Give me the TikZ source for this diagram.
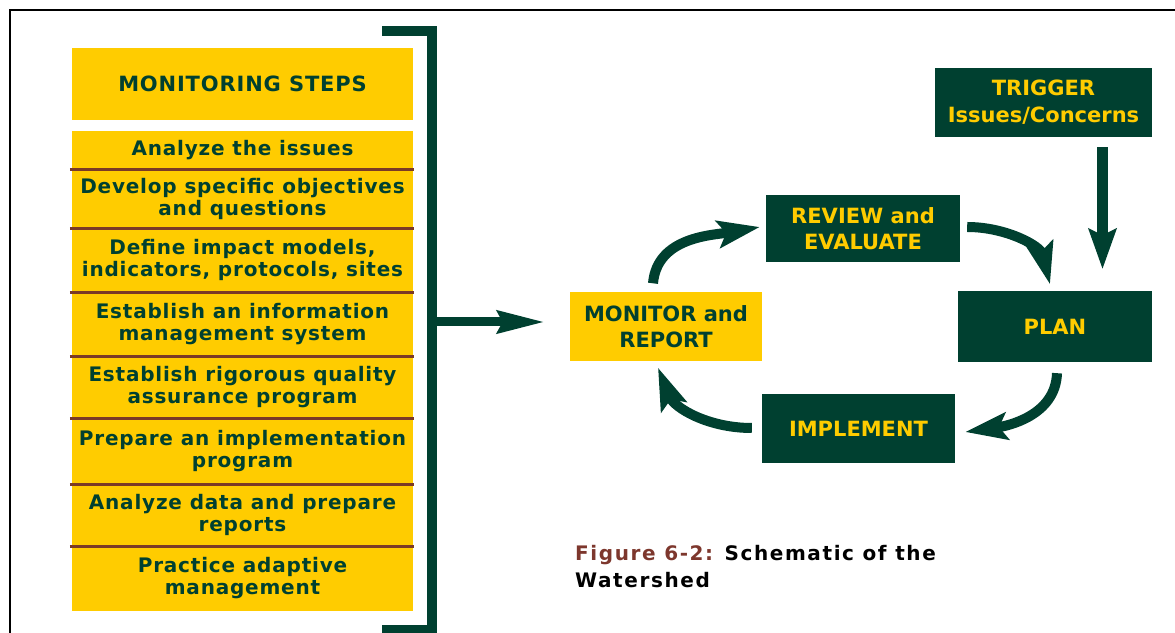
\documentclass[tikz,border=0pt]{standalone}
\usepackage{fontspec}
\setmainfont{DejaVu Sans}
\newfontfamily\stepfont{DejaVu Sans}[LetterSpace=4]
\newfontfamily\captionfont{DejaVu Sans}[LetterSpace=8]
\usetikzlibrary{arrows.meta}
\definecolor{pinegreen}{RGB}{0,64,48}
\definecolor{marigold}{RGB}{255,204,0}
\definecolor{rustline}{RGB}{122,58,38}
\definecolor{rustcap}{RGB}{125,55,45}
\tikzset{
    stepbox/.style={fill=marigold, text=pinegreen, minimum width=341pt, inner sep=0pt, align=center,
        font=\stepfont\bfseries\fontsize{20}{22}\selectfont},
    cyclebox/.style={fill=pinegreen, text=marigold, minimum width=194pt, minimum height=69pt, inner sep=0pt,
        align=center, font=\bfseries\fontsize{21}{26}\selectfont},
    separator/.style={draw=rustline, line width=3pt},
    loop arrow/.style={draw=pinegreen, line width=10pt, -{Stealth[length=42pt,width=27pt,inset=8pt]}},
}

\begin{document}
\begin{tikzpicture}[x=1pt,y=1pt]
    \useasboundingbox (0,0) rectangle (1175,632);
    \draw[line width=2.5pt] (10,-5) |- (1185,622);

    % steps column
    \node[stepbox, minimum height=72pt, font=\stepfont\bfseries\fontsize{21}{24}\selectfont] (title) at (242.5,548) {MONITORING STEPS};
    \node[stepbox, minimum height=38pt] (s1) at (242.5,482) {Analyze the issues};
    \node[stepbox, minimum height=59pt] (s2) at (242.5,433.5) {Develop specific objectives\\and questions};
    \node[stepbox, minimum height=64pt] (s3) at (242.5,372) {Define impact models,\\indicators, protocols, sites};
    \node[stepbox, minimum height=64pt] (s4) at (242.5,308) {Establish an information\\management system};
    \node[stepbox, minimum height=62pt] (s5) at (242.5,245) {Establish rigorous quality\\assurance program};
    \node[stepbox, minimum height=66pt] (s6) at (242.5,181) {Prepare an implementation\\program};
    \node[stepbox, minimum height=62pt] (s7) at (242.5,117) {Analyze data and prepare\\reports};
    \node[stepbox, minimum height=65pt] (s8) at (242.5,53.5) {Practice adaptive\\management};

    \draw[separator] ([xshift=-2pt]s1.south west) -- ([xshift=1pt]s1.south east);
    \draw[separator] ([xshift=-2pt]s2.south west) -- ([xshift=1pt]s2.south east);
    \draw[separator] ([xshift=-2pt]s3.south west) -- ([xshift=1pt]s3.south east);
    \draw[separator] ([xshift=-2pt]s4.south west) -- ([xshift=1pt]s4.south east);
    \draw[separator] ([xshift=-2pt]s5.south west) -- ([xshift=1pt]s5.south east);
    \draw[separator] ([xshift=-2pt]s6.south west) -- ([xshift=1pt]s6.south east);
    \draw[separator] ([xshift=-2pt]s7.south west) -- ([xshift=1pt]s7.south east);

    % bracket
    \coordinate (brmid) at (432,310);
    \draw[pinegreen, line width=9.5pt] (382,601) -| (432,2) -- (382,2);

    % cycle
    \node[cyclebox, minimum width=217pt, font=\bfseries\fontsize{21}{27}\selectfont] (trig) at (1043.5,529.5) {TRIGGER\\Issues/Concerns};
    \node[cyclebox, minimum height=67pt] (rev) at (863,403.5) {REVIEW and\\EVALUATE};
    \node[cyclebox, minimum height=71pt] (plan) at (1055,305.5) {PLAN};
    \node[cyclebox, fill=marigold, text=pinegreen, minimum width=192pt] (mon) at (666,305.5) {MONITOR and\\REPORT};
    \node[cyclebox, minimum width=193pt] (impl) at (858.5,203.5) {IMPLEMENT};

    \draw[pinegreen, line width=9pt, shorten >=25pt, -{Stealth[length=47pt,width=22pt,inset=5pt]}] (brmid) -- (brmid -| mon.west);
    \draw[pinegreen, line width=11pt, -{Stealth[length=40pt,width=27pt,inset=6pt]}] ([xshift=59pt,yshift=-10pt]trig.south) -- ([xshift=47.5pt,yshift=21.5pt]plan.north);

    \draw[loop arrow] ([xshift=-13pt,yshift=8.5pt]mon.north) to[out=85,in=190] ([xshift=-6pt,yshift=1.5pt]rev.west);
    \draw[loop arrow] ([xshift=7pt,yshift=1.5pt]rev.east) to[out=0,in=104] ([xshift=-5pt,yshift=6.5pt]plan.north);
    \draw[loop arrow] ([xshift=2pt,yshift=-11pt]plan.south) to[out=-92,in=8] ([xshift=10pt,yshift=-3.5pt]impl.east);
    \draw[loop arrow] ([xshift=-10pt,yshift=0.5pt]impl.west) to[out=180,in=-68] ([xshift=-8pt,yshift=-6.5pt]mon.south);

    \node[anchor=west, align=left, inner sep=0pt, font=\captionfont\bfseries\fontsize{20}{27}\selectfont] (caption) at (575,65.5)
        {\textcolor{rustcap}{Figure 6-2:} Schematic of the\\Watershed};
\end{tikzpicture}
\end{document}
